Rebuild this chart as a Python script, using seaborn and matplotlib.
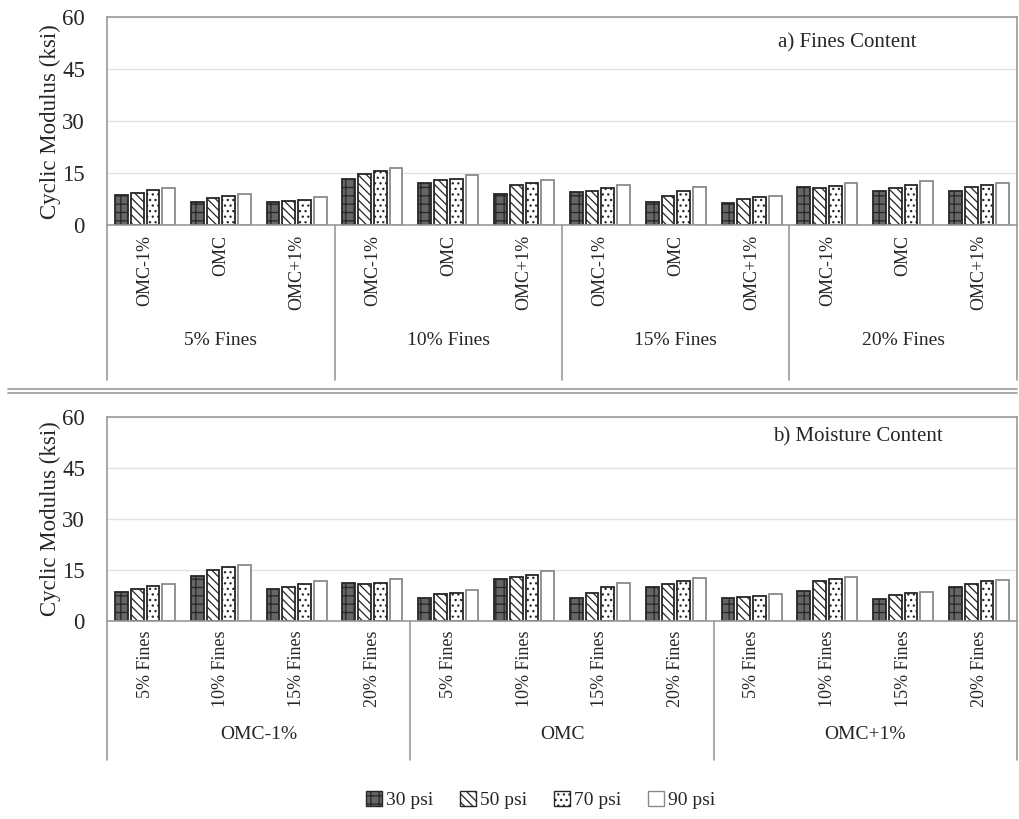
import matplotlib
matplotlib.use("Agg")
import matplotlib.pyplot as plt
from matplotlib.lines import Line2D
from matplotlib.patches import Patch
from matplotlib.transforms import blended_transform_factory
import numpy as np
import pandas as pd
import seaborn as sns

# Category levels
fines = ["5% Fines", "10% Fines", "15% Fines", "20% Fines"]
moisture = ["OMC-1%", "OMC", "OMC+1%"]
pressures = ["30 psi", "50 psi", "70 psi", "90 psi"]

# Cyclic modulus (ksi) per confining pressure, ordered fines -> moisture
mod_30 = [8.6, 6.7, 6.7, 13.3, 12.2, 8.9, 9.5, 6.7, 6.4, 11.0, 10.0, 10.0]
mod_50 = [9.3, 7.9, 7.0, 14.8, 12.9, 11.6, 10.0, 8.3, 7.7, 10.8, 10.7, 10.9]
mod_70 = [10.3, 8.3, 7.4, 15.7, 13.4, 12.2, 10.7, 10.0, 8.1, 11.2, 11.7, 11.7]
mod_90 = [10.7, 9.0, 8.0, 16.5, 14.6, 12.9, 11.6, 11.0, 8.4, 12.2, 12.7, 12.1]

rows = []
for p, vals in zip(pressures, [mod_30, mod_50, mod_70, mod_90]):
    k = 0
    for f in fines:
        for m in moisture:
            rows.append({"fines": f, "moisture": m, "pressure": p, "modulus": vals[k]})
            k += 1
df = pd.DataFrame(rows)
df["by_fines"] = df["fines"] + "|" + df["moisture"]
df["by_moisture"] = df["moisture"] + "|" + df["fines"]

sns.set_style("white")
plt.rcParams["font.family"] = ["Liberation Serif", "DejaVu Serif"]
plt.rcParams["hatch.linewidth"] = 0.9

# Bar styling for each pressure level
faces = ["#666666", "#ffffff", "#ffffff", "#ffffff"]
edges = ["#262626", "#262626", "#262626", "#8a8a8a"]
hatches = ["++", "\\\\\\\\", "...", ""]

spine_c = "#9a9a9a"
grid_c = "#e3e3e3"

fig = plt.figure(figsize=(10.2, 8.19), dpi=100)
ax_top = fig.add_axes([0.105, 0.725, 0.892, 0.254])
ax_bot = fig.add_axes([0.105, 0.242, 0.892, 0.249])


def draw_panel(ax, key, outer, inner, note, note_xy, label_y, sep_y):
    order = [f"{o}|{i}" for o in outer for i in inner]
    sns.barplot(data=df, x=key, y="modulus", hue="pressure", order=order,
                hue_order=pressures, errorbar=None, width=0.83, gap=0.19,
                palette=faces, ax=ax, legend=False, saturation=1)
    for cont, fc, ec, h in zip(ax.containers, faces, edges, hatches):
        for bar in cont:
            bar.set_facecolor(fc)
            bar.set_edgecolor(ec)
            bar.set_hatch(h)
            bar.set_linewidth(1.3)
    n = len(order)
    ax.set_xlim(-0.5, n - 0.5)
    ax.set_ylim(0, 60)
    ax.set_yticks([0, 15, 30, 45, 60])
    ax.yaxis.grid(True, color=grid_c, lw=1.0)
    ax.set_axisbelow(True)
    ax.set_xticks(range(n))
    ax.set_xticklabels(inner * len(outer), rotation=90, fontsize=13)
    ax.tick_params(axis="x", length=0, pad=7)
    ax.tick_params(axis="y", length=0, pad=16, labelsize=16.5)
    ax.set_xlabel("")
    ax.set_ylabel("Cyclic Modulus (ksi)", fontsize=16.5, labelpad=1)
    for s in ax.spines.values():
        s.set_color(spine_c)
        s.set_linewidth(1.2)
    trans = blended_transform_factory(ax.transData, ax.transAxes)
    size = len(inner)
    for g in range(len(outer) + 1):
        xpos = g * size - 0.5
        ax.add_line(Line2D([xpos, xpos], [0, sep_y], transform=trans,
                           color=spine_c, lw=1.2, clip_on=False))
    for g, name in enumerate(outer):
        ax.text(g * size + (size - 1) / 2, label_y, name, transform=trans,
                ha="center", va="center", fontsize=14)
    ax.text(note_xy[0], note_xy[1], note, transform=ax.transAxes,
            ha="right", va="center", fontsize=15)


draw_panel(ax_top, "by_fines", fines, moisture, "a) Fines Content",
           (0.890, 0.875), -0.553, -0.745)
draw_panel(ax_bot, "by_moisture", moisture, fines, "b) Moisture Content",
           (0.918, 0.900), -0.559, -0.681)

# double rule between the two panels
for yy in (0.5245, 0.5205):
    fig.add_artist(Line2D([0.008, 0.997], [yy, yy], transform=fig.transFigure,
                          color="#9a9a9a", lw=1.2))

handles = [Patch(facecolor=fc, edgecolor=ec, hatch=h, lw=1.0)
           for fc, ec, h in zip(faces, edges, hatches)]
fig.legend(handles, pressures, loc="center", bbox_to_anchor=(0.53, 0.023),
           ncol=4, frameon=False, handlelength=0.8, handleheight=0.8,
           handletextpad=0.2, columnspacing=1.4, fontsize=14)

fig.savefig("out.png", dpi=100)
